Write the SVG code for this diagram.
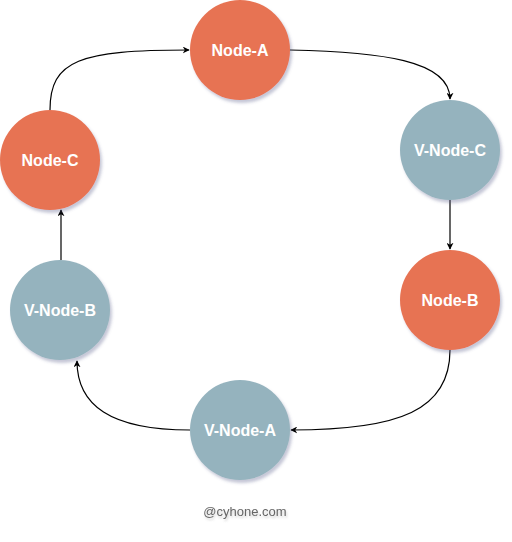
<svg xmlns="http://www.w3.org/2000/svg" width="512" height="542" viewBox="0 0 512 542">
<defs>
<filter id="sh" x="-20%" y="-20%" width="150%" height="150%">
<feDropShadow dx="2" dy="3" stdDeviation="1.5" flood-color="#5a5f8a" flood-opacity="0.35"/>
</filter>
<filter id="tsh" x="-10%" y="-30%" width="130%" height="180%">
<feDropShadow dx="1" dy="2" stdDeviation="1" flood-color="#777" flood-opacity="0.35"/>
</filter>
<marker id="arr" viewBox="0 0 10 10" refX="9" refY="5" markerWidth="7" markerHeight="7" markerUnits="userSpaceOnUse" orient="auto">
<path d="M0,0 L10,5 L0,10 L3,5 Z" fill="#000"/>
</marker>
<style>
.real{fill:#E77352;filter:url(#sh)}
.virt{fill:#95B3BE;filter:url(#sh)}
.lbl{font-family:"Comic Sans MS","Liberation Sans",sans-serif;font-weight:bold;font-size:16px;fill:#fff;text-anchor:middle}
.edge{fill:none;stroke:#000;stroke-width:1.2;marker-end:url(#arr)}
</style>
</defs>
<rect width="512" height="542" fill="#fff"/>
<g id="connectors">
<path class="edge" d="M50,110 C50,60 80,50 189,50"/>
<path class="edge" d="M290,50 C380,52 450,60 450,99"/>
<path class="edge" d="M450,200 L450,249"/>
<path class="edge" d="M450,350 C450,410 400,430 291,430"/>
<path class="edge" d="M190,430 C110,430 77,405 77,361"/>
<path class="edge" d="M61,260 L61,210"/>
</g>
<g id="node-a"><circle class="real" cx="240" cy="50" r="50"/><text class="lbl" x="240" y="56">Node-A</text></g>
<g id="v-node-c"><circle class="virt" cx="450" cy="150" r="50"/><text class="lbl" x="450" y="156">V-Node-C</text></g>
<g id="node-b"><circle class="real" cx="450" cy="300" r="50"/><text class="lbl" x="450" y="306">Node-B</text></g>
<g id="v-node-a"><circle class="virt" cx="240" cy="430" r="50"/><text class="lbl" x="240" y="436">V-Node-A</text></g>
<g id="v-node-b"><circle class="virt" cx="60" cy="310" r="50"/><text class="lbl" x="60" y="316">V-Node-B</text></g>
<g id="node-c"><circle class="real" cx="50" cy="160" r="50"/><text class="lbl" x="50" y="166">Node-C</text></g>
<text x="245" y="516" filter="url(#tsh)" style="font-family:'Comic Sans MS','Liberation Sans',sans-serif;font-size:13px;fill:#666;text-anchor:middle">@cyhone.com</text>
</svg>
